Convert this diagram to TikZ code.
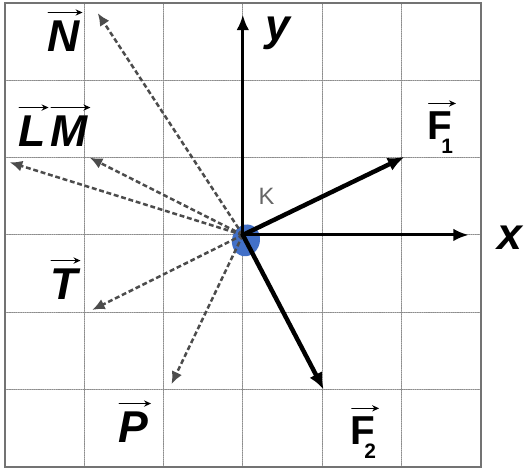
\documentclass[tikz,border=0pt]{standalone}
\usepackage{fontspec}
\newfontfamily\arialfont{Liberation Sans}
\usetikzlibrary{arrows.meta, shapes.geometric}

\begin{document}
\begin{tikzpicture}[
    x=2cm, y=1.95cm,
    line cap=round,
    every node/.style={font=\arialfont},
    gridline/.style={black!45, line width=0.7pt, dash pattern=on 0.8pt off 0.8pt},
    frame/.style={black!55, line width=1.5pt, line cap=butt},
    axis/.style={line width=2.1pt, -{Latex[length=11pt, width=9pt]}},
    force/.style={line width=3.2pt, -{Latex[length=12pt, width=10pt]}},
    dashvec/.style={black!70, line width=1.8pt, line cap=butt,
        dash pattern=on 3.5pt off 2pt, -{Latex[length=9pt, width=8pt]}},
    dot/.style={ellipse, fill=dotblue, inner sep=0pt, minimum width=20pt,
        minimum height=23pt, rotate=-15},
    vecletter/.style={inner sep=0pt, font=\arialfont\fontsize{32}{36}\selectfont\bfseries\itshape},
    forceletter/.style={inner sep=0pt, font=\arialfont\fontsize{29}{33}\selectfont\bfseries},
    overarrow/.style={line width=1.2pt, -{Stealth[length=5pt, width=4.5pt]}},
]

\definecolor{dotblue}{RGB}{66,112,200}

\useasboundingbox (-0.063,-0.05) rectangle (6.56,6.04);

% ---------- grid and frame ----------
\foreach \k in {1,...,5}{
    \draw[gridline] (\k,0) -- (\k,6);
    \draw[gridline] (0,\k) -- (6,\k);
}
\draw[frame] (0,0) rectangle (6,6);

% ---------- macro: letter with a small arrow above it ----------
% #1 = node name, #2 = base west position, #3 = style, #4 = text
\newcommand{\veclabel}[4]{%
    \node[#3, anchor=base west] (#1) at #2 {#4};
    \draw[overarrow] ([xshift=1pt, yshift=6pt]#1.north west)
        -- ([xshift=2pt, yshift=6pt]#1.north east);
}

% ---------- point K and the vector tips ----------
\node[dot] (K) at (3.04,2.93) {};
\coordinate (O) at (3,3);
\coordinate (yend) at (3,5.85);
\coordinate (xend) at (5.85,3);
\coordinate (F1end) at (5.04,4.01);
\coordinate (F2end) at (4.02,1.0);
\coordinate (Nend) at (1.17,5.87);
\coordinate (Lend) at (0.06,3.94);
\coordinate (Mend) at (1.07,4.0);
\coordinate (Tend) at (1.1,2.03);
\coordinate (Pend) at (2.1,1.07);

% dashed vectors behind the dot
\foreach \tip in {Nend,Lend,Mend,Tend,Pend}{
    \draw[dashvec] (O) -- (\tip);
}

% axes and the two forces
\draw[axis] (O) -- (yend);
\draw[axis] (O) -- (xend);
\draw[force] (O) -- (F1end);
\draw[force] (O) -- (F2end);

% ---------- labels ----------
\node[vecletter, anchor=base] (ylab) at (3.44,5.52) {y};
\node[vecletter, anchor=base] (xlab) at (6.37,2.81) {x};
\node[black!60, font=\arialfont\fontsize{17}{19}\selectfont] (Klab) at (3.3,3.5) {K};

\veclabel{Nlab}{(0.53,5.37)}{vecletter}{N}
\veclabel{Llab}{(0.164,4.14)}{vecletter}{L}
\veclabel{Mlab}{(0.567,4.14)}{vecletter}{M}
\veclabel{Tlab}{(0.567,2.16)}{vecletter}{T}
\veclabel{Plab}{(1.425,0.31)}{vecletter}{P}
\veclabel{F1lab}{(5.33,4.23)}{forceletter}{F\hspace{-8pt}\raisebox{-10pt}{\fontsize{15}{17}\selectfont 1}}
\veclabel{F2lab}{(4.36,0.285)}{forceletter}{F\hspace{-8pt}\raisebox{-10pt}{\fontsize{15}{17}\selectfont 2}}

\end{tikzpicture}
\end{document}
